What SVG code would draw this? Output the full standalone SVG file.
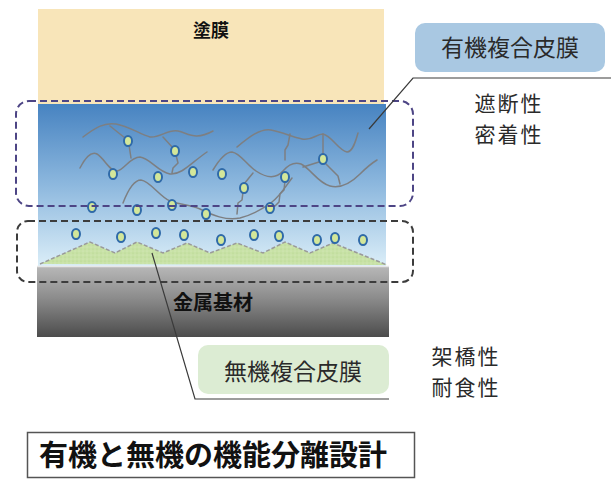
<svg xmlns="http://www.w3.org/2000/svg" width="611" height="480" viewBox="0 0 611 480">
  <defs>
    <linearGradient id="organic" x1="0" y1="0" x2="0" y2="1">
      <stop offset="0" stop-color="#4783c1"/>
      <stop offset="0.5" stop-color="#8db8de"/>
      <stop offset="1" stop-color="#dbeef8"/>
    </linearGradient>
    <linearGradient id="metal" x1="0" y1="0" x2="0" y2="1">
      <stop offset="0" stop-color="#b8b8b8"/>
      <stop offset="0.45" stop-color="#8c8c8c"/>
      <stop offset="1" stop-color="#4c4c4c"/>
    </linearGradient>
    <pattern id="dots" width="4" height="4" patternUnits="userSpaceOnUse">
      <rect width="4" height="4" fill="#c8e2a6"/>
      <circle cx="1" cy="1" r="0.6" fill="#b4d48e"/>
      <circle cx="3" cy="3" r="0.6" fill="#d8ecc0"/>
    </pattern>
  </defs>
  <style>
    .jp { font-family: "Noto Sans CJK JP", "Noto Sans CJK SC", sans-serif; fill: #2a2a2a; }
    .bold { font-weight: bold; fill: #111; }
    .prop { font-size: 21px; letter-spacing: 2px; }
    .chain { fill: none; stroke: #7d7f82; stroke-width: 1.5; stroke-linecap: round; stroke-linejoin: round; }
    .p { fill: #d3e79a; stroke: #2f6aa8; stroke-width: 2; }
    .lead { fill: none; stroke: #3a3a3a; stroke-width: 1.2; }
  </style>

  <rect width="611" height="480" fill="#ffffff"/>

  <!-- coating layer -->
  <g id="coating">
    <rect x="38" y="9" width="346" height="96" fill="#f8e5b9"/>
    <text class="jp bold" x="211" y="37" font-size="18" text-anchor="middle">塗膜</text>
  </g>

  <!-- organic composite layer with polymer chains -->
  <g id="organic-layer">
    <rect x="38" y="104" width="348" height="162" fill="url(#organic)"/>
    <path class="chain" d="M83,137 C95,128 104,122 116,124 C128,126 140,134 150,137 C160,138 168,129 178,131 C188,133 195,141 213,131"/>
    <path class="chain" d="M80,168 C85,158 91,151 97,154 C104,158 110,172 117,171 C124,170 130,157 140,157 C150,158 158,172 170,174 C182,175 192,162 207,152"/>
    <path class="chain" d="M110,126 L125,138 M129,145 L131,158 M163,137 L173,148 M176,155 L178,163 L173,168 L172,173"/>
    <path class="chain" d="M123,203 C128,190 134,180 141,180 C150,181 160,197 170,201 C182,205 190,205 200,209 C212,215 226,221 240,218 C252,215 264,208 272,202 C280,196 286,186 292,178"/>
    <path class="chain" d="M237,147 C248,138 260,128 271,130 C282,132 292,137 302,139 C312,141 316,134 323,134 C332,136 338,150 347,152 C353,152 356,140 358,133"/>
    <path class="chain" d="M213,170 C219,160 225,152 232,152 C240,153 247,165 256,171 C265,177 275,180 283,171 C289,164 295,162 301,164 C310,168 318,183 330,186 C342,189 352,182 360,174 C366,168 372,163 377,160"/>
    <path class="chain" d="M290,134 L288,145 L285,150 L285,160 M285,181 L284,190 L280,194 L279,202 L275,206"/>
    <path class="chain" d="M323,134 L323,155 M319,162 L303,167 M326,164 L338,176 L340,184"/>
    <path class="chain" d="M244,184 L253,173 M243,192 L242,200 L238,203 L237,214"/>
  </g>

  <!-- inorganic composite layer -->
  <g id="inorganic-layer">
    <path d="M40,264 L90,242 L115,253 L137,242 L163,253 L187,243 L210,253 L237,243 L263,253 L285,242 L310,253 L333,243 L387,265 Z" fill="url(#dots)"/>
    <path d="M40,264 L90,242 L115,253 L137,242 L163,253 L187,243 L210,253 L237,243 L263,253 L285,242 L310,253 L333,243 L387,265" fill="none" stroke="#9a9a9a" stroke-width="1.5" stroke-dasharray="4,2"/>
  </g>

  <!-- dispersed particles -->
  <g id="particles">
    <ellipse class="p" cx="128" cy="141" rx="4" ry="5"/>
    <ellipse class="p" cx="175" cy="151" rx="4" ry="5"/>
    <ellipse class="p" cx="113" cy="174" rx="4" ry="5"/>
    <ellipse class="p" cx="158" cy="177" rx="4" ry="5"/>
    <ellipse class="p" cx="193" cy="172" rx="4" ry="5"/>
    <ellipse class="p" cx="222" cy="174" rx="4" ry="5"/>
    <ellipse class="p" cx="244" cy="188" rx="4" ry="5"/>
    <ellipse class="p" cx="285" cy="177" rx="4" ry="5"/>
    <ellipse class="p" cx="323" cy="159" rx="4" ry="5"/>
    <ellipse class="p" cx="92" cy="207" rx="4" ry="5"/>
    <ellipse class="p" cx="137" cy="210" rx="4" ry="5"/>
    <ellipse class="p" cx="172" cy="205" rx="4" ry="5"/>
    <ellipse class="p" cx="206" cy="214" rx="4" ry="5"/>
    <ellipse class="p" cx="270" cy="208" rx="4" ry="5"/>
    <ellipse class="p" cx="76" cy="234" rx="4" ry="5"/>
    <ellipse class="p" cx="121" cy="237" rx="4" ry="5"/>
    <ellipse class="p" cx="156" cy="233" rx="4" ry="5"/>
    <ellipse class="p" cx="184" cy="235" rx="4" ry="5"/>
    <ellipse class="p" cx="221" cy="240" rx="4" ry="5"/>
    <ellipse class="p" cx="254" cy="235" rx="4" ry="5"/>
    <ellipse class="p" cx="279" cy="236" rx="4" ry="5"/>
    <ellipse class="p" cx="317" cy="240" rx="4" ry="5"/>
    <ellipse class="p" cx="335" cy="238" rx="4" ry="5"/>
    <ellipse class="p" cx="363" cy="240" rx="4" ry="5"/>
  </g>

  <!-- metal substrate -->
  <g id="substrate">
    <rect x="37" y="266" width="352" height="71" fill="url(#metal)"/>
    <line x1="37" y1="266.5" x2="389" y2="266.5" stroke="#e6e6e6" stroke-width="1.5"/>
    <text class="jp bold" x="213" y="310" font-size="20" text-anchor="middle">金属基材</text>
  </g>

  <!-- region outlines -->
  <g id="organic-region">
    <rect x="16" y="101" width="397" height="105" rx="13" fill="none" stroke="#4d4585" stroke-width="2" stroke-dasharray="7,4"/>
  </g>
  <g id="inorganic-region">
    <rect x="17" y="221" width="396" height="61" rx="11" fill="none" stroke="#3c3c3c" stroke-width="2" stroke-dasharray="7,4"/>
  </g>

  <!-- labels -->
  <g id="organic-label">
    <rect x="415" y="23" width="190" height="49" rx="10" fill="#a9c8e2"/>
    <text class="jp" x="510" y="56" font-size="23" text-anchor="middle">有機複合皮膜</text>
  </g>
  <g id="organic-props">
    <text class="jp prop" x="509" y="111" text-anchor="middle">遮断性</text>
    <text class="jp prop" x="509" y="142" text-anchor="middle">密着性</text>
  </g>
  <g id="inorganic-label">
    <rect x="198" y="345" width="191" height="49" rx="10" fill="#dcecd3"/>
    <text class="jp" x="293" y="380" font-size="23" text-anchor="middle">無機複合皮膜</text>
  </g>
  <g id="inorganic-props">
    <text class="jp prop" x="466" y="364" text-anchor="middle">架橋性</text>
    <text class="jp prop" x="466" y="395" text-anchor="middle">耐食性</text>
  </g>

  <!-- leader lines -->
  <g id="connectors">
    <polyline class="lead" points="369,129 413,78 611,78"/>
    <polyline class="lead" points="152,253 195,399 389,399"/>
  </g>

  <!-- caption -->
  <g id="caption">
    <rect x="27.5" y="432.5" width="387" height="45" fill="#ffffff" stroke="#555555" stroke-width="1.5"/>
    <text class="jp bold" x="213" y="466" font-size="29" font-weight="900" text-anchor="middle">有機と無機の機能分離設計</text>
  </g>
</svg>
